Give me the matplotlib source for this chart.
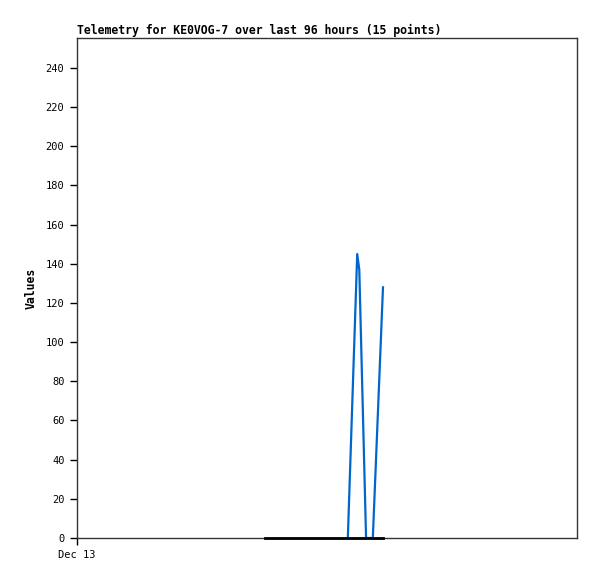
import matplotlib
matplotlib.use('Agg')
import matplotlib.pyplot as plt

# hours since Dec 13 00:00 (window = 96 hours)
zero_hours = [36.1, 52.0, 55.5, 56.8, 58.75]
zero_vals = [0, 0, 0, 0, 0]
blue_hours = [52.0, 53.8, 54.2, 55.5, 56.8, 58.75]
blue_vals = [0, 145, 137, 0, 0, 128]
tick_hours = [0]
tick_labels = ['Dec 13']

plt.rcParams['font.family'] = 'DejaVu Sans Mono'

fig = plt.figure(figsize=(5.97, 5.79), dpi=100)
ax = fig.add_axes([77/597, 1 - 538/579, 500/597, 500/579])

ax.plot(zero_hours, zero_vals, color='black', lw=2, zorder=4, clip_on=False)
ax.plot(blue_hours, blue_vals, color='#0066cc', lw=1.6, zorder=3)

ax.set_xlim(0, 96)
ax.set_ylim(0, 255.3)
ax.set_yticks(range(0, 241, 20))
ax.set_xticks(tick_hours)
ax.set_xticklabels(tick_labels)
ax.tick_params(labelsize=7.5, length=5, width=1, direction='out', pad=4)
for s in ax.spines.values():
    s.set_color('#333333')
    s.set_linewidth(1)

ax.set_ylabel('Values', fontsize=8.3, fontweight='bold', labelpad=6)
ax.set_title('Telemetry for KE0VOG-7 over last 96 hours (15 points)',
             fontsize=8.3, fontweight='bold', loc='left', pad=3)

fig.savefig('out.png', dpi=100)
